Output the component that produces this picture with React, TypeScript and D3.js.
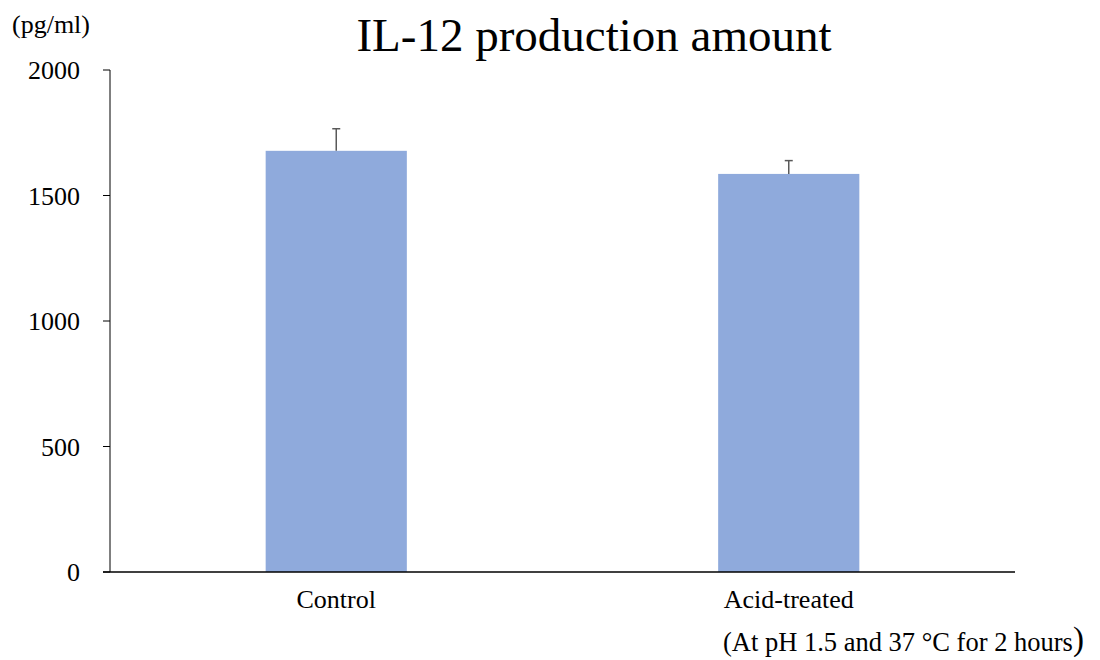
import React from "react";
import { scaleBand, scaleLinear } from "d3";

const categories = ["Control", "Acid-treated"];
const values = [1678, 1586];
const errors = [88, 53];
const yTicks = [0, 500, 1000, 1500, 2000];

const W = 1100;
const H = 660;
const left = 110;
const right = 1015;
const top = 70;
const bottom = 572;
const font = "'Liberation Serif', 'Times New Roman', serif";

const App = () => {
  const xScale = scaleBand<string>()
    .domain(categories)
    .range([left, right])
    .paddingInner(0.688)
    .paddingOuter(0.344);

  const yScale = scaleLinear().domain([0, 2000]).range([bottom, top]);

  return (
    <div style={{ position: "absolute", left: 0, top: 0 }}>
      <svg width={W} height={H} style={{ display: "block", background: "#fff" }}>
        <text x={594} y={51} textAnchor="middle" fontFamily={font} fontSize={47} fill="#000">
          IL-12 production amount
        </text>
        <text x={12} y={33} fontFamily={font} fontSize={26} fill="#000">
          (pg/ml)
        </text>

        {/* y axis */}
        <line x1={left} x2={left} y1={top} y2={bottom} stroke="#000" strokeWidth={1} />
        {yTicks.map(t => (
          <g key={t}>
            <line x1={left - 7} x2={left} y1={yScale(t)} y2={yScale(t)} stroke="#000" strokeWidth={1} />
            <text
              x={80}
              y={yScale(t)}
              dy="0.35em"
              textAnchor="end"
              fontFamily={font}
              fontSize={26}
              fill="#000"
            >
              {t}
            </text>
          </g>
        ))}

        {/* bars */}
        {categories.map((c, i) => {
          const x = xScale(c)!;
          const bw = xScale.bandwidth();
          const cx = x + bw / 2;
          return (
            <g key={c}>
              <rect
                x={x}
                y={yScale(values[i])}
                width={bw}
                height={bottom - yScale(values[i])}
                fill="#8FAADC"
              />
              <line
                x1={cx}
                x2={cx}
                y1={yScale(values[i])}
                y2={yScale(values[i] + errors[i])}
                stroke="#595959"
                strokeWidth={1.5}
              />
              <line
                x1={cx - 4}
                x2={cx + 4}
                y1={yScale(values[i] + errors[i])}
                y2={yScale(values[i] + errors[i])}
                stroke="#595959"
                strokeWidth={1.5}
              />
              <text x={cx} y={608} textAnchor="middle" fontFamily={font} fontSize={26} fill="#000">
                {c}
              </text>
            </g>
          );
        })}

        {/* x axis */}
        <line x1={left - 7} x2={right} y1={bottom} y2={bottom} stroke="#000" strokeWidth={1.5} />

        <text x={723} y={651} fontFamily={font} fontSize={26.5} fill="#000" xmlSpace="preserve">
          (At pH 1.5 and 37 °C for 2 hours<tspan fontSize={33} dy={-1}>)</tspan>
        </text>
      </svg>
    </div>
  );
};

export default App;
